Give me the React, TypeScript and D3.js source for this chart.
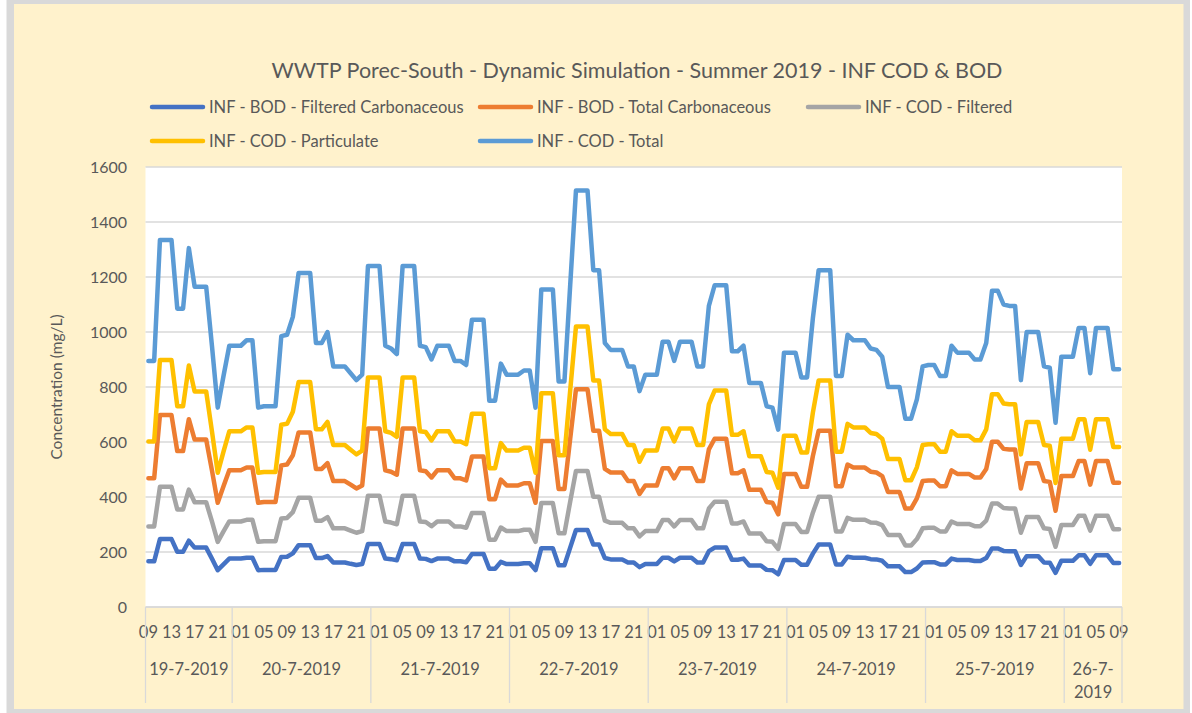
import React, { useEffect, useRef } from 'react';
import * as d3 from 'd3';

// Chart title and legend names
const chartTitle = 'WWTP Porec-South - Dynamic Simulation - Summer 2019 - INF COD & BOD';
const seriesNames = [
  'INF - BOD - Filtered Carbonaceous',
  'INF - BOD - Total Carbonaceous',
  'INF - COD - Filtered',
  'INF - COD - Particulate',
  'INF - COD - Total',
];
const seriesColors = ['#4472C4', '#ED7D31', '#A5A5A5', '#FFC000', '#5B9BD5'];

// Category axis: hourly values from 19-7-2019 09:00 to 26-7-2019 09:00
const startHour = 9;
const hourCount = 169;
const dayLabels = [
  ['19-7-2019'], ['20-7-2019'], ['21-7-2019'], ['22-7-2019'],
  ['23-7-2019'], ['24-7-2019'], ['25-7-2019'], ['26-7-', '2019'],
];
const yTicks = [0, 200, 400, 600, 800, 1000, 1200, 1400, 1600];

// Series values (mg/L), one per hour
const bodFiltered = [
  166, 166, 247, 247, 247, 201, 201, 241, 216, 216, 216, 176, 134, 155, 176,
  176, 176, 179, 179, 134, 135, 135, 135, 182, 183, 195, 225, 225, 225, 178, 178, 185, 162, 162, 162, 157, 153, 156, 229,
  229, 229, 176, 174, 170, 229, 229, 229, 176, 175, 167, 176, 176, 176, 166, 166, 163, 193, 193, 193, 139, 139, 164, 156,
  156, 156, 159, 159, 134, 214, 214, 214, 152, 152, 216, 280, 280, 280, 227, 227, 178, 173, 173, 173, 162, 162, 145, 156,
  156, 156, 179, 179, 166, 179, 179, 179, 162, 162, 203, 216, 216, 216, 172, 172, 176, 151, 151, 151, 135, 134, 119, 171,
  171, 171, 154, 154, 194, 227, 227, 227, 155, 155, 183, 179, 179, 179, 174, 173, 168, 148, 148, 148, 127, 127, 140, 162,
  163, 163, 155, 155, 176, 171, 171, 171, 167, 167, 178, 213, 213, 204, 203, 203, 153, 185, 185, 185, 162, 161, 124, 168,
  168, 168, 188, 188, 157, 188, 188, 188, 160, 160,
];
const bodTotal = [
  468, 468, 698, 698, 698, 567, 567, 683, 609, 609, 609, 497, 379, 439, 497,
  497, 497, 507, 507, 379, 382, 382, 382, 515, 518, 552, 635, 635, 635, 502, 502, 523, 458, 458, 458, 445, 431, 442, 649,
  649, 649, 497, 492, 481, 649, 649, 649, 497, 494, 471, 497, 497, 497, 468, 468, 460, 547, 547, 547, 392, 392, 463, 442,
  442, 442, 450, 450, 379, 604, 604, 604, 429, 429, 612, 792, 792, 792, 641, 641, 502, 489, 489, 489, 458, 458, 411, 442,
  442, 442, 505, 505, 468, 505, 505, 505, 458, 458, 573, 612, 612, 612, 486, 486, 497, 426, 426, 426, 382, 379, 337, 484,
  484, 484, 437, 437, 549, 641, 641, 641, 439, 439, 518, 507, 507, 507, 492, 489, 476, 418, 418, 418, 358, 358, 395, 458,
  460, 460, 439, 439, 497, 484, 484, 484, 471, 471, 502, 601, 601, 575, 573, 573, 431, 523, 523, 523, 458, 455, 350, 476,
  476, 476, 531, 531, 445, 531, 531, 531, 452, 452,
];
const codFiltered = [
  293, 293, 437, 437, 437, 355, 355, 427, 381, 381, 381, 311, 237, 275, 311,
  311, 311, 317, 317, 237, 239, 239, 239, 322, 324, 345, 397, 397, 397, 314, 314, 327, 286, 286, 286, 278, 270, 276, 405,
  405, 405, 311, 307, 301, 405, 405, 405, 311, 309, 294, 311, 311, 311, 293, 293, 288, 342, 342, 342, 245, 245, 289, 276,
  276, 276, 281, 281, 237, 378, 378, 378, 268, 268, 383, 495, 495, 495, 401, 401, 314, 306, 306, 306, 286, 286, 257, 276,
  276, 276, 316, 316, 293, 316, 316, 316, 286, 286, 358, 383, 383, 383, 304, 304, 311, 267, 267, 267, 239, 237, 211, 302,
  302, 302, 273, 273, 343, 401, 401, 401, 275, 275, 324, 317, 317, 317, 307, 306, 298, 262, 262, 262, 224, 224, 247, 286,
  288, 288, 275, 275, 311, 302, 302, 302, 294, 294, 314, 376, 376, 360, 358, 358, 270, 327, 327, 327, 286, 284, 219, 298,
  298, 298, 332, 332, 278, 332, 332, 332, 283, 283,
];
const codParticulate = [
  602, 602, 898, 898, 898, 730, 730, 878, 784, 784, 784, 639, 488, 565, 639,
  639, 639, 653, 653, 488, 491, 491, 491, 663, 666, 710, 818, 818, 818, 646, 646, 673, 589, 589, 589, 572, 555, 569, 835,
  835, 835, 639, 633, 619, 835, 835, 835, 639, 636, 606, 639, 639, 639, 602, 602, 592, 703, 703, 703, 505, 505, 596, 569,
  569, 569, 579, 579, 488, 777, 777, 777, 552, 552, 787, 1020, 1020, 1020, 824, 824, 646, 629, 629, 629, 589, 589, 528, 569,
  569, 569, 649, 649, 602, 649, 649, 649, 589, 589, 737, 787, 787, 787, 626, 626, 639, 548, 548, 548, 491, 488, 434, 623,
  623, 623, 562, 562, 707, 824, 824, 824, 565, 565, 666, 653, 653, 653, 633, 629, 612, 538, 538, 538, 461, 461, 508, 589,
  592, 592, 565, 565, 639, 623, 623, 623, 606, 606, 646, 774, 774, 740, 737, 737, 555, 673, 673, 673, 589, 586, 451, 612,
  612, 612, 683, 683, 572, 683, 683, 683, 582, 582,
];
const codTotal = [
  895, 895, 1335, 1335, 1335, 1085, 1085, 1305, 1165, 1165, 1165, 950, 725, 840, 950,
  950, 950, 970, 970, 725, 730, 730, 730, 985, 990, 1055, 1215, 1215, 1215, 960, 960, 1000, 875, 875, 875, 850, 825, 845, 1240,
  1240, 1240, 950, 940, 920, 1240, 1240, 1240, 950, 945, 900, 950, 950, 950, 895, 895, 880, 1045, 1045, 1045, 750, 750, 885, 845,
  845, 845, 860, 860, 725, 1155, 1155, 1155, 820, 820, 1170, 1515, 1515, 1515, 1225, 1225, 960, 935, 935, 935, 875, 875, 785, 845,
  845, 845, 965, 965, 895, 965, 965, 965, 875, 875, 1095, 1170, 1170, 1170, 930, 930, 950, 815, 815, 815, 730, 725, 645, 925,
  925, 925, 835, 835, 1050, 1225, 1225, 1225, 840, 840, 990, 970, 970, 970, 940, 935, 910, 800, 800, 800, 685, 685, 755, 875,
  880, 880, 840, 840, 950, 925, 925, 925, 900, 900, 960, 1150, 1150, 1100, 1095, 1095, 825, 1000, 1000, 1000, 875, 870, 670, 910,
  910, 910, 1015, 1015, 850, 1015, 1015, 1015, 865, 865,
];

const seriesValues = [bodFiltered, bodTotal, codFiltered, codParticulate, codTotal];

const App = () => {
  const chartRef = useRef<SVGSVGElement | null>(null);

  useEffect(() => {
    document.body.style.margin = '0';

    const width = 1192;
    const height = 713;
    const plot = { left: 145.5, right: 1122, top: 167, bottom: 607 };
    const font = 'Lato, "Open Sans", sans-serif';
    const textColor = '#595959';

    const svg = d3.select(chartRef.current);
    svg.selectAll('*').remove();
    svg.attr('width', width).attr('height', height);

    // page background, grey frame and cream chart area
    svg.append('rect')
      .attr('width', width).attr('height', height)
      .attr('fill', '#FFFFFF');
    svg.append('rect')
      .attr('x', 6.5).attr('y', 0)
      .attr('width', 1183.5).attr('height', height)
      .attr('fill', '#D9D9D9');
    svg.append('rect')
      .attr('x', 14).attr('y', 4)
      .attr('width', 1169.5).attr('height', 705)
      .attr('fill', '#FFF2CC');

    // white plot area
    svg.append('rect')
      .attr('x', plot.left).attr('y', plot.top)
      .attr('width', plot.right - plot.left).attr('height', plot.bottom - plot.top)
      .attr('fill', '#FFFFFF');

    // scales
    const xScale = d3.scaleBand<number>()
      .domain(d3.range(hourCount))
      .range([plot.left, plot.right])
      .padding(0);
    const bw = xScale.bandwidth();
    const xMid = (i: number) => (xScale(i) as number) + bw / 2;

    const yScale = d3.scaleLinear()
      .domain([0, 1600])
      .range([plot.bottom, plot.top]);

    // horizontal gridlines
    svg.append('g')
      .selectAll('line')
      .data(yTicks)
      .enter()
      .append('line')
      .attr('x1', plot.left).attr('x2', plot.right)
      .attr('y1', d => yScale(d)).attr('y2', d => yScale(d))
      .attr('stroke', '#D9D9D9')
      .attr('stroke-width', 1.3);

    // y tick labels
    svg.append('g')
      .selectAll('text')
      .data(yTicks)
      .enter()
      .append('text')
      .attr('x', 127)
      .attr('y', d => yScale(d) + 5.5)
      .attr('text-anchor', 'end')
      .attr('font-family', font)
      .attr('font-size', 16)
      .attr('fill', textColor)
      .text(d => d);

    // y axis title
    svg.append('text')
      .attr('transform', 'translate(62,387) rotate(-90)')
      .attr('text-anchor', 'middle')
      .attr('font-family', font)
      .attr('font-size', 15.5)
      .attr('fill', textColor)
      .text('Concentration (mg/L)');

    // hour tick labels, every 4 hours
    const hourOf = (i: number) => (startHour + i) % 24;
    const tickIdx = d3.range(hourCount).filter(i => hourOf(i) % 4 === 1);
    svg.append('g')
      .selectAll('text')
      .data(tickIdx)
      .enter()
      .append('text')
      .attr('x', d => xMid(d))
      .attr('y', 638)
      .attr('text-anchor', 'middle')
      .attr('font-family', font)
      .attr('font-size', 16.5)
      .attr('fill', textColor)
      .text(d => String(hourOf(d)).padStart(2, '0'));

    // day groups: separators and labels
    const dayRanges = dayLabels.map((_, d) => {
      const first = Math.max(0, 24 * d - startHour);
      const last = Math.min(hourCount - 1, 24 * d + 23 - startHour);
      return { x0: xScale(first) as number, x1: (xScale(last) as number) + bw };
    });
    const sepX = [dayRanges[0].x0, ...dayRanges.map(r => r.x1)];
    svg.append('g')
      .selectAll('line')
      .data(sepX)
      .enter()
      .append('line')
      .attr('x1', d => d).attr('x2', d => d)
      .attr('y1', plot.bottom).attr('y2', 703)
      .attr('stroke', '#D9D9D9')
      .attr('stroke-width', 1.3);

    const dayG = svg.append('g');
    dayLabels.forEach((lines, d) => {
      const cx = (dayRanges[d].x0 + dayRanges[d].x1) / 2;
      lines.forEach((ln, k) => {
        dayG.append('text')
          .attr('x', cx)
          .attr('y', 675 + k * 23)
          .attr('text-anchor', 'middle')
          .attr('font-family', font)
          .attr('font-size', 16.5)
          .attr('fill', textColor)
          .text(ln);
      });
    });

    // x axis line
    svg.append('line')
      .attr('x1', plot.left).attr('x2', plot.right)
      .attr('y1', plot.bottom).attr('y2', plot.bottom)
      .attr('stroke', '#D9D9D9')
      .attr('stroke-width', 1.3);

    // series lines
    const line = d3.line<number>()
      .x((_, i) => xMid(i))
      .y(d => yScale(d));
    svg.append('g')
      .selectAll('path')
      .data(seriesValues)
      .enter()
      .append('path')
      .attr('d', d => line(d))
      .attr('fill', 'none')
      .attr('stroke', (_, i) => seriesColors[i])
      .attr('stroke-width', 4.5)
      .attr('stroke-linejoin', 'round')
      .attr('stroke-linecap', 'round');

    // title
    svg.append('text')
      .attr('x', 637)
      .attr('y', 78)
      .attr('text-anchor', 'middle')
      .attr('font-family', font)
      .attr('font-size', 21.5)
      .attr('fill', textColor)
      .text(chartTitle);

    // legend, three items per row
    const legendX = [150, 478, 806];
    const legendY = [107, 141];
    const legend = svg.append('g')
      .selectAll('g')
      .data(seriesNames)
      .enter()
      .append('g')
      .attr('transform', (_, i) => `translate(${legendX[i % 3]},${legendY[Math.floor(i / 3)]})`);
    legend.append('line')
      .attr('x1', 2).attr('x2', 53)
      .attr('y1', 0).attr('y2', 0)
      .attr('stroke', (_, i) => seriesColors[i])
      .attr('stroke-width', 4.5)
      .attr('stroke-linecap', 'round');
    legend.append('text')
      .attr('x', 59)
      .attr('y', 5.5)
      .attr('font-family', font)
      .attr('font-size', 16.5)
      .attr('fill', textColor)
      .text(d => d);
  }, []);

  return <svg ref={chartRef} style={{ display: 'block' }}></svg>;
};

export default App;
